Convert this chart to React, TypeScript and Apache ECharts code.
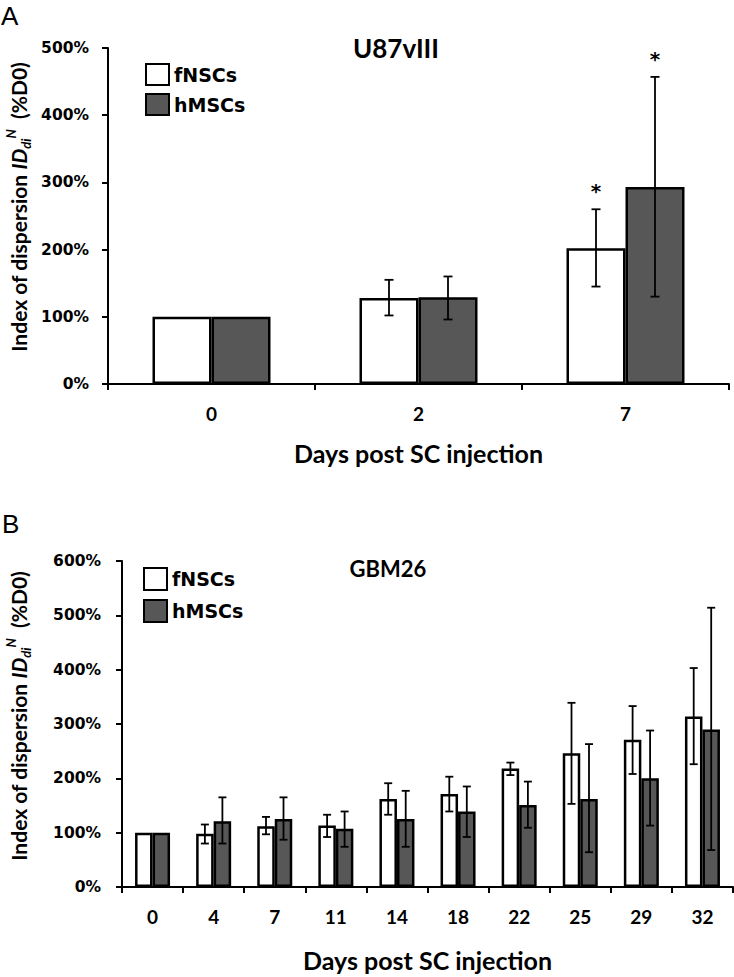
import React, { useEffect, useRef } from "react";
import * as echarts from "echarts";

const seriesNames = ["fNSCs", "hMSCs"];

// Panel A: U87vIII
const daysA = ["0", "2", "7"];
const fNSCsA = [100, 128, 202];
const fNSCsALow: (number | null)[] = [null, 102, 145];
const fNSCsAHigh: (number | null)[] = [null, 155, 260];
const fNSCsASig = [0, 0, 1];
const hMSCsA = [100, 129, 293];
const hMSCsALow: (number | null)[] = [null, 96, 130];
const hMSCsAHigh: (number | null)[] = [null, 160, 457];
const hMSCsASig = [0, 0, 1];
const yMaxA = 500;

// Panel B: GBM26
const daysB = ["0", "4", "7", "11", "14", "18", "22", "25", "29", "32"];
const fNSCsB = [100, 98, 112, 113, 162, 171, 218, 246, 271, 314];
const fNSCsBLow: (number | null)[] = [null, 80, 97, 92, 133, 139, 206, 153, 208, 226];
const fNSCsBHigh: (number | null)[] = [null, 115, 129, 133, 191, 203, 229, 339, 333, 403];
const hMSCsB = [100, 121, 125, 107, 125, 139, 151, 162, 200, 290];
const hMSCsBLow: (number | null)[] = [null, 80, 87, 74, 74, 92, 109, 64, 113, 68];
const hMSCsBHigh: (number | null)[] = [null, 165, 165, 139, 177, 185, 194, 263, 288, 514];
const yMaxB = 600;

const titleA = "U87vIII";
const titleB = "GBM26";
const xTitle = "Days post SC injection";

const TICK_FONT = "'DejaVu Sans', sans-serif";
const CAL_FONT = "Lato, 'Open Sans', sans-serif";
const DARK = "#575757";

function errData(low: (number | null)[], high: (number | null)[], sig?: number[]) {
  const out: any[] = [];
  low.forEach((l, i) => {
    if (l == null || high[i] == null) return;
    out.push([i, l, high[i], sig ? sig[i] : 0]);
  });
  return out;
}

function errRender(offset: number, capHalf: number, lw: number) {
  return (params: any, api: any) => {
    const c = api.value(0);
    const lo = api.value(1);
    const hi = api.value(2);
    const p1 = api.coord([c, lo]);
    const p2 = api.coord([c, hi]);
    const x = p1[0] + offset;
    const st = { stroke: "#000", lineWidth: lw };
    const children: any[] = [
      { type: "line", shape: { x1: x, y1: p1[1], x2: x, y2: p2[1] }, style: st },
      { type: "line", shape: { x1: x - capHalf, y1: p1[1], x2: x + capHalf, y2: p1[1] }, style: st },
      { type: "line", shape: { x1: x - capHalf, y1: p2[1], x2: x + capHalf, y2: p2[1] }, style: st },
    ];
    if (api.value(3)) {
      children.push({
        type: "text",
        x,
        y: p2[1] - 18,
        style: {
          text: "*",
          fill: "#000",
          font: `bold 20px ${TICK_FONT}`,
          align: "center",
          verticalAlign: "middle",
        },
      });
    }
    return { type: "group", children };
  };
}

function yTitle(x: number, y: number) {
  return {
    type: "text",
    x,
    y,
    rotation: Math.PI / 2,
    style: {
      text: "{n|Index of dispersion }{i|ID}{sub|di}{sup|N}{n|  (%D0)}",
      align: "center",
      verticalAlign: "middle",
      fill: "#000",
      rich: {
        n: { fontFamily: CAL_FONT, fontWeight: "bold", fontSize: 21, lineHeight: 28, verticalAlign: "middle" },
        i: { fontFamily: CAL_FONT, fontWeight: "bold", fontStyle: "italic", fontSize: 21, lineHeight: 28, verticalAlign: "middle" },
        sub: { fontFamily: CAL_FONT, fontWeight: "bold", fontStyle: "italic", fontSize: 13, lineHeight: 13, verticalAlign: "bottom" },
        sup: { fontFamily: CAL_FONT, fontWeight: "bold", fontStyle: "italic", fontSize: 13, lineHeight: 13, verticalAlign: "top" },
      },
    },
  };
}

export default function App() {
  const ref = useRef<HTMLDivElement>(null);
  useEffect(() => {
    if (!ref.current) return;
    const chart = echarts.init(ref.current, null, { renderer: "svg" });
    const axisLine = { show: true, lineStyle: { color: "#000", width: 2 } };
    const axisTickY = { show: true, inside: false, length: 6, lineStyle: { color: "#000", width: 2 } };
    const axisTickX = { show: true, inside: false, length: 6, alignWithLabel: false, lineStyle: { color: "#000", width: 2 } };
    const yLabel = { color: "#000", fontFamily: TICK_FONT, fontWeight: "bold", fontSize: 15.5, formatter: "{value}%" };
    const xLabel = { color: "#000", fontFamily: CAL_FONT, fontWeight: "bold", fontSize: 19, margin: 20 };
    const xName = { color: "#000", fontFamily: CAL_FONT, fontWeight: "bold", fontSize: 25, verticalAlign: "top" };
    const legendText = { color: "#000", fontFamily: TICK_FONT, fontWeight: "bold", fontSize: 19 };
    const barStyle = (fill: string, bw: number) => ({ color: fill, borderColor: "#000", borderWidth: bw });

    const option: any = {
      animation: false,
      backgroundColor: "#fff",
      grid: [
        { left: 108, top: 48, width: 621, height: 336 },
        { left: 122, top: 561, width: 611, height: 326 },
      ],
      legend: [
        {
          data: seriesNames,
          orient: "vertical",
          left: 140,
          top: 58,
          itemWidth: 23,
          itemHeight: 21,
          itemGap: 7,
          icon: "rect",
          textStyle: legendText,
          selectedMode: false,
        },
        {
          data: seriesNames,
          orient: "vertical",
          left: 138,
          top: 562,
          itemWidth: 23,
          itemHeight: 22,
          itemGap: 8,
          icon: "rect",
          textStyle: legendText,
          selectedMode: false,
        },
      ],
      xAxis: [
        {
          type: "category",
          gridIndex: 0,
          data: daysA,
          axisLine,
          axisTick: axisTickX,
          axisLabel: xLabel,
          name: xTitle,
          nameLocation: "middle",
          nameGap: 56,
          nameTextStyle: xName,
        },
        {
          type: "category",
          gridIndex: 1,
          data: daysB,
          axisLine,
          axisTick: axisTickX,
          axisLabel: xLabel,
          name: xTitle,
          nameLocation: "middle",
          nameGap: 60,
          nameTextStyle: xName,
        },
      ],
      yAxis: [
        {
          type: "value",
          gridIndex: 0,
          min: 0,
          max: yMaxA,
          interval: 100,
          axisLine,
          axisTick: axisTickY,
          splitLine: { show: false },
          axisLabel: { ...yLabel, margin: 19 },
        },
        {
          type: "value",
          gridIndex: 1,
          min: 0,
          max: yMaxB,
          interval: 100,
          axisLine,
          axisTick: axisTickY,
          splitLine: { show: false },
          axisLabel: { ...yLabel, margin: 21 },
        },
      ],
      series: [
        {
          name: seriesNames[0],
          type: "bar",
          xAxisIndex: 0,
          yAxisIndex: 0,
          data: fNSCsA,
          barWidth: 59,
          barGap: "0%",
          itemStyle: barStyle("#fff", 2.5),
        },
        {
          name: seriesNames[1],
          type: "bar",
          xAxisIndex: 0,
          yAxisIndex: 0,
          data: hMSCsA,
          barWidth: 59,
          barGap: "0%",
          itemStyle: barStyle(DARK, 2.5),
        },
        {
          name: seriesNames[0],
          type: "bar",
          xAxisIndex: 1,
          yAxisIndex: 1,
          data: fNSCsB,
          barWidth: 17.5,
          barGap: "0%",
          itemStyle: barStyle("#fff", 2.5),
        },
        {
          name: seriesNames[1],
          type: "bar",
          xAxisIndex: 1,
          yAxisIndex: 1,
          data: hMSCsB,
          barWidth: 17.5,
          barGap: "0%",
          itemStyle: barStyle(DARK, 2.5),
        },
        {
          type: "custom",
          xAxisIndex: 0,
          yAxisIndex: 0,
          data: errData(fNSCsALow, fNSCsAHigh, fNSCsASig),
          encode: { x: 0, y: [1, 2] },
          renderItem: errRender(-29.5, 4.5, 1.8),
          z: 10,
          silent: true,
        },
        {
          type: "custom",
          xAxisIndex: 0,
          yAxisIndex: 0,
          data: errData(hMSCsALow, hMSCsAHigh, hMSCsASig),
          encode: { x: 0, y: [1, 2] },
          renderItem: errRender(29.5, 4.5, 1.8),
          z: 10,
          silent: true,
        },
        {
          type: "custom",
          xAxisIndex: 1,
          yAxisIndex: 1,
          data: errData(fNSCsBLow, fNSCsBHigh),
          encode: { x: 0, y: [1, 2] },
          renderItem: errRender(-8.75, 4, 1.8),
          z: 10,
          silent: true,
        },
        {
          type: "custom",
          xAxisIndex: 1,
          yAxisIndex: 1,
          data: errData(hMSCsBLow, hMSCsBHigh),
          encode: { x: 0, y: [1, 2] },
          renderItem: errRender(8.75, 4, 1.8),
          z: 10,
          silent: true,
        },
      ],
      graphic: [
        {
          type: "text",
          x: 1,
          y: 3,
          style: { text: "A", fill: "#000", font: "26px 'Liberation Sans', Arial, sans-serif" },
        },
        {
          type: "text",
          x: 2,
          y: 511,
          style: { text: "B", fill: "#000", font: "26px 'Liberation Sans', Arial, sans-serif" },
        },
        {
          type: "text",
          x: 396,
          y: 48,
          style: { text: titleA, fill: "#000", font: `bold 26px ${CAL_FONT}`, align: "center", verticalAlign: "middle" },
        },
        {
          type: "text",
          x: 388,
          y: 568,
          style: { text: titleB, fill: "#000", font: `bold 22px ${CAL_FONT}`, align: "center", verticalAlign: "middle" },
        },
        yTitle(18, 207),
        yTitle(18, 716),
      ],
    };
    chart.setOption(option);
    return () => chart.dispose();
  }, []);
  return (
    <div
      ref={ref}
      style={{ position: "fixed", left: 0, top: 0, width: 734, height: 977, background: "#fff" }}
    />
  );
}
